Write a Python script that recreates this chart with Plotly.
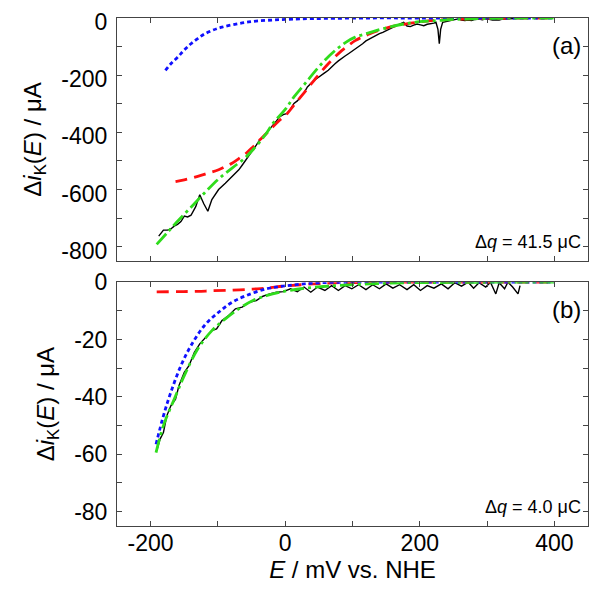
import plotly.graph_objects as go

# ---------------- Panel (a) data ----------------
a_exp_x = [-188, -181, -175, -170, -165, -160, -155, -150, -145, -140, -133, -127, -121, -115, -109, -104,
           -99, -89, -79, -74, -69, -64, -58, -53, -48, -43, -38, -33, -28, -23, -18, -13, -8, -3, 3, 8,
           13, 18, 23, 28, 33, 38, 43, 48, 53, 58, 64, 69, 74, 79, 84, 89, 94, 99, 104, 109, 115, 120,
           125, 130, 135, 140, 145, 150, 155, 160, 165, 170, 176, 181, 186, 191, 196, 201, 206, 211, 216,
           221, 224, 227, 229, 231, 234, 240, 247, 252, 257, 262, 267, 272, 277, 282, 288, 293, 298, 303,
           308, 313, 318, 323, 328, 333, 338, 343]
a_exp_y = [-763, -742, -742, -738, -728, -722, -712, -693, -696, -690, -660, -618, -650, -676, -635, -615,
           -600, -578, -554, -540, -531, -515, -496, -480, -461, -445, -427, -418, -403, -390, -374, -360,
           -345, -338, -334, -318, -299, -290, -276, -262, -241, -228, -218, -210, -200, -193, -183, -170,
           -160, -150, -143, -133, -125, -117, -108, -100, -90, -80, -73, -66, -61, -55, -50, -45, -38, -33,
           -27, -22, -15, -28, -30, -25, -21, -24, -27, -22, -21, -18, -15, -40, -90, -40, -15, -12, -9, -6,
           -3, -7, -9, -7, -9, -5, -4, -6, -3, -5, -7, -6, -7, -4, -3, -4, -3, -2]

a_fit_x = [-191, -175, -160, -140, -120, -100, -79, -60, -48, -30, -18, 0, 13, 30, 43, 60, 74, 90, 104,
           120, 135, 155, 176, 200, 226, 250, 277, 320, 400]
a_fit_y = [-792, -750, -711, -662, -612, -565, -525, -490, -461, -410, -368, -320, -276, -228, -190, -145,
           -114, -85, -67, -55, -44, -32, -21, -13, -9, -5, -3, -1, 0]

a_red_x = [-163, -150, -130, -115, -99, -89, -79, -69, -58, -48, -38, -28, -18, -8, 3, 13, 23, 33, 43, 53,
           64, 74, 84, 94, 104, 115, 125, 140, 155, 176, 196, 226, 250, 277, 320, 400]
a_red_y = [-572, -566, -554, -543, -531, -520, -508, -492, -473, -451, -427, -404, -380, -357, -334, -305,
           -276, -247, -218, -189, -160, -136, -114, -96, -79, -66, -56, -43, -32, -22, -15, -7, -5, -3, -1, 0]

a_blue_x = [-178, -170, -160, -150, -140, -130, -120, -107, -94, -75, -58, -40, -18, 0, 23, 60, 125, 200, 300, 400]
a_blue_y = [-183, -160, -137, -112, -90, -72, -56, -42, -32, -22, -15, -10, -7, -5, -3, -1.5, 0, 0, 0, 0]

# ---------------- Panel (b) data ----------------
b_exp_x = [-191, -186, -181, -176, -170, -163, -158, -150, -143, -135, -127, -120, -109, -102, -94, -84,
           -74, -64, -53, -43, -33, -23, -13, -3, 8, 18, 28, 38, 48, 59, 69, 79, 89, 99, 109, 120, 130,
           140, 150, 160, 170, 181, 191, 201, 211, 221, 232, 242, 252, 262, 272, 280, 288, 298, 305, 313,
           318, 326, 331, 338, 346, 349]
b_exp_y = [-58.8, -54.7, -52.4, -46.6, -43.1, -40.8, -36.1, -31.4, -29.1, -24.5, -21.5, -19.8, -16.9, -16.3,
           -13.4, -11.6, -9.3, -8.7, -7.0, -6.4, -4.9, -4.1, -3.5, -3.3, -2.3, -3.3, -1.7, -3.5, -1.7, -2.9,
           -1.2, -2.9, -1.2, -2.3, -0.9, -2.6, -0.9, -2.3, -0.6, -2.1, -0.9, -2.6, -0.9, -2.9, -1.2, -2.1,
           -0.6, -2.3, -0.2, -1.4, 0.0, -2.1, -0.2, -1.7, 0.0, -4.1, -0.2, -2.3, 0.0, -1.7, -4.1, -1.2]

b_fit_x = [-192, -181, -165, -150, -130, -109, -89, -69, -48, -28, -8, 23, 74, 125, 176, 250, 320, 400]
b_fit_y = [-59.4, -50.0, -40.8, -32.6, -23.3, -16.9, -12.8, -9.3, -6.4, -4.7, -3.5, -2.3, -1.2, -0.6,
           -0.2, -0.1, 0.0, 0.0]

b_blue_x = [-192, -181, -170, -155, -140, -120, -99, -79, -58, -28, -3, 23, 53, 99, 200, 300, 400]
b_blue_y = [-56.5, -46.6, -38.4, -29.1, -22.1, -15.1, -10.5, -7.0, -4.7, -2.3, -1.4, -0.7, -0.2, 0.0, 0.0,
            0.0, 0.0]

b_red_x = [-191, -160, -130, -109, -79, -48, -28, -3, 23, 50, 74, 120, 200, 300, 400]
b_red_y = [-3.4, -3.3, -3.2, -3.0, -2.8, -2.4, -2.1, -1.4, -0.9, -0.5, -0.2, -0.1, 0.0, 0.0, 0.0]

x_tickvals = [-200, 0, 200, 400]
x_ticktext = ["-200", "0", "200", "400"]
a_tickvals = [0, -200, -400, -600, -800]
a_ticktext = ["0", "-200", "-400", "-600", "-800"]
b_tickvals = [0, -20, -40, -60, -80]
b_ticktext = ["0", "-20", "-40", "-60", "-80"]

GREEN = "#2fdc1c"
RED = "#ff1010"
BLUE = "#1010ff"
FONT = "Liberation Sans, Arial, sans-serif"

fig = go.Figure()

def add_panel(xax, yax, ex, ey, fx, fy, rx, ry, bx, by):
    fig.add_trace(go.Scatter(x=ex, y=ey, mode="lines", line=dict(color="black", width=1.4),
                             xaxis=xax, yaxis=yax, showlegend=False))
    fig.add_trace(go.Scatter(x=rx, y=ry, mode="lines", line=dict(color=RED, width=2.8, dash="12px,7px", shape="spline"),
                             xaxis=xax, yaxis=yax, showlegend=False))
    fig.add_trace(go.Scatter(x=bx, y=by, mode="lines", line=dict(color=BLUE, width=2.8, dash="4px,3px", shape="spline"),
                             xaxis=xax, yaxis=yax, showlegend=False))
    fig.add_trace(go.Scatter(x=fx, y=fy, mode="lines", line=dict(color=GREEN, width=2.8, dash="14px,4px,3px,4px", shape="spline"),
                             xaxis=xax, yaxis=yax, showlegend=False))

add_panel("x", "y", a_exp_x, a_exp_y, a_fit_x, a_fit_y, a_red_x, a_red_y, a_blue_x, a_blue_y)
add_panel("x2", "y2", b_exp_x, b_exp_y, b_fit_x, b_fit_y, b_red_x, b_red_y, b_blue_x, b_blue_y)

minor_common = dict(ticks="inside", ticklen=5, tickwidth=1, tickcolor="#444", showgrid=False)
axis_common = dict(showline=True, linecolor="#444", linewidth=1, mirror="ticks", ticks="inside",
                   ticklen=5, tickwidth=1, tickcolor="#444", showgrid=False, zeroline=False,
                   ticklabelstandoff=4, automargin=False, ticklabeloverflow="allow",
                   tickfont=dict(family=FONT, size=23, color="black"))

ytitle = "Δ<i>i</i><sub>K</sub>(<i>E</i>) / μA"

# the page body adds an 8 px margin, so the figure is 8 px smaller and margins shifted
fig.update_layout(
    width=592, height=588,
    margin=dict(l=109, r=11.5, t=9.7, b=70.3, autoexpand=False),
    paper_bgcolor="white", plot_bgcolor="white",
    font=dict(family=FONT, size=23, color="black"),
    xaxis=dict(axis_common, domain=[0, 1], range=[-250, 450], anchor="y", showticklabels=False,
               tickvals=x_tickvals, ticktext=x_ticktext, minor=dict(minor_common, dtick=100, tick0=0)),
    yaxis=dict(axis_common, domain=[0.5217, 1], range=[-850, 0], anchor="x", tickvals=a_tickvals,
               ticktext=a_ticktext, minor=dict(minor_common, dtick=100, tick0=0), ticklabelshift=4,
               title=dict(text=ytitle, font=dict(family=FONT, size=24), standoff=12)),
    xaxis2=dict(axis_common, domain=[0, 1], range=[-250, 450], anchor="y2", tickvals=x_tickvals,
                ticktext=x_ticktext, minor=dict(minor_common, dtick=100, tick0=0), ticklabelstandoff=-4,
                title=dict(text="<i>E</i> / mV vs. NHE", font=dict(family=FONT, size=24), standoff=6)),
    yaxis2=dict(axis_common, domain=[0, 0.480], range=[-85, 0], anchor="x2", tickvals=b_tickvals,
                ticktext=b_ticktext, minor=dict(minor_common, dtick=10, tick0=0),
                title=dict(text=ytitle, font=dict(family=FONT, size=24), standoff=12)),
)

fig.add_annotation(text="(a)", xref="x domain", yref="y domain", x=0.99, y=0.888, xanchor="right",
                   yanchor="middle", showarrow=False, font=dict(family=FONT, size=24))
fig.add_annotation(text="Δ<i>q</i> = 41.5 μC", xref="x domain", yref="y domain", x=0.99, y=0.078,
                   xanchor="right", yanchor="middle", showarrow=False, font=dict(family=FONT, size=18))
fig.add_annotation(text="(b)", xref="x2 domain", yref="y2 domain", x=0.99, y=0.888, xanchor="right",
                   yanchor="middle", showarrow=False, font=dict(family=FONT, size=24))
fig.add_annotation(text="Δ<i>q</i> = 4.0 μC", xref="x2 domain", yref="y2 domain", x=0.99, y=0.078,
                   xanchor="right", yanchor="middle", showarrow=False, font=dict(family=FONT, size=18))

fig.write_html("out.html")
